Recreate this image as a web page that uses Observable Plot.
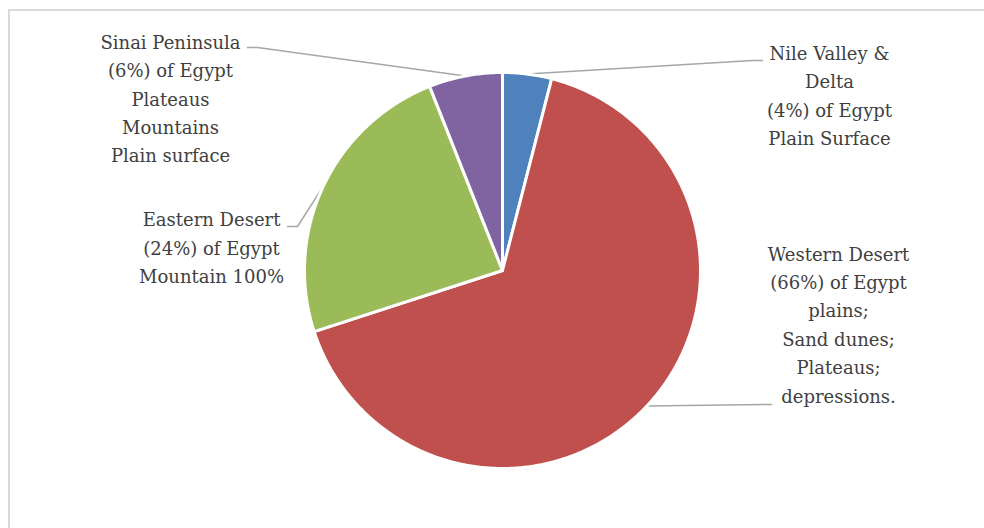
<!DOCTYPE html>
<html>
<head>
<meta charset="utf-8">
<script src="https://cdn.jsdelivr.net/npm/d3@7"></script>
<script src="https://cdn.jsdelivr.net/npm/@observablehq/plot@0.6"></script>
<style>
  html, body { margin: 0; padding: 0; background: #fff; overflow: hidden; }
  #frame { position: absolute; left: 8px; top: 9px; width: 1000px; height: 600px;
           border-left: 2px solid #d9d9d9; border-top: 2px solid #d9d9d9; }
  #chart { position: absolute; left: 0; top: 0; }
</style>
</head>
<body>
<div id="frame"></div>
<div id="chart"></div>
<script>
// ---- data ----
const regions = ["Nile Valley & Delta", "Western Desert", "Eastern Desert", "Sinai Peninsula"];
const shares = [4, 66, 24, 6];
const colors = ["#4F81BD", "#C0504D", "#9BBB59", "#8064A2"];
const labelTexts = [
  "Nile Valley &\nDelta\n(4%) of Egypt\nPlain Surface",
  "Western Desert\n(66%) of Egypt\nplains;\nSand dunes;\nPlateaus;\ndepressions.",
  "Eastern Desert\n(24%) of Egypt\nMountain 100%",
  "Sinai Peninsula\n(6%) of Egypt\nPlateaus\nMountains\nPlain surface"
];

// ---- layout (pixels) ----
const W = 984, H = 528;
const CX = 502, CY = 270, R = 198;
const labelPos = [[829, 93], [838, 322], [211, 245], [170, 96]];
const leaderTail = [
  [[752, 60], [762, 60]],
  [[771, 404]],
  [[297, 226], [287, 226]],
  [[257, 47], [247, 47]]
];

const toU = px => (px - CX) / R;
const toV = py => (CY - py) / R;

// slices
const total = d3.sum(shares);
const deg = Math.PI / 180;
const polys = [];
const leaders = [];
let start = 0;
shares.forEach((s, i) => {
  const a0 = start, a1 = start + s / total * 360;
  const pts = [{u: 0, v: 0}];
  const n = Math.max(2, Math.ceil((a1 - a0) / 0.5));
  for (let k = 0; k <= n; k++) {
    const a = (a0 + (a1 - a0) * k / n) * deg;
    pts.push({u: Math.sin(a), v: Math.cos(a)});
  }
  pts.push({u: 0, v: 0});
  pts.forEach(p => polys.push({...p, region: regions[i]}));
  const am = (a0 + a1) / 2 * deg;
  leaders.push({u: Math.sin(am), v: Math.cos(am), region: regions[i]});
  leaderTail[i].forEach(([px, py]) => leaders.push({u: toU(px), v: toV(py), region: regions[i]}));
  start = a1;
});

const labels = regions.map((r, i) => ({region: r, text: labelTexts[i], u: toU(labelPos[i][0]), v: toV(labelPos[i][1])}));

const chart = Plot.plot({
  width: W, height: H,
  margin: 0,
  x: {domain: [toU(0), toU(W)], axis: null},
  y: {domain: [toV(H), toV(0)], axis: null},
  color: {domain: regions, range: colors},
  style: {background: "transparent"},
  marks: [
    Plot.line(leaders, {x: "u", y: "v", z: "region", stroke: "#A6A6A6", strokeWidth: 1.5, curve: "linear"}),
    Plot.line(polys, {x: "u", y: "v", z: "region", fill: "region", stroke: "#fff", strokeWidth: 3, strokeLinejoin: "round", curve: "linear"}),
    Plot.text(labels, {x: "u", y: "v", text: "text", fill: "#404040", fontSize: 18, lineHeight: 1.58,
      fontFamily: "DejaVu Serif, serif", textAnchor: "middle", lineAnchor: "middle"})
  ]
});
document.getElementById("chart").appendChild(chart);
</script>
</body>
</html>
